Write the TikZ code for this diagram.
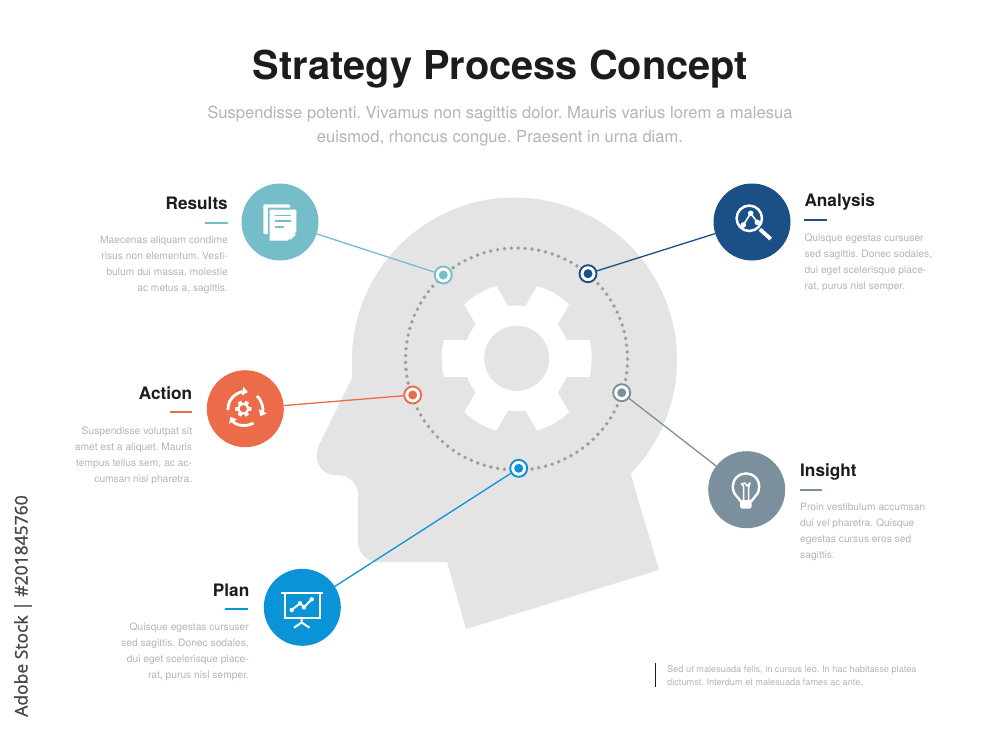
\documentclass[tikz,border=0pt]{standalone}
\usepackage{fontspec}
\setmainfont{TeX Gyre Heros}
\newfontfamily\stockfont[FakeBold=1.2]{Open Sans}
\usepackage{xcolor}
\usetikzlibrary{arrows.meta}
\definecolor{headgray}{HTML}{E4E4E4}
\definecolor{dotgray}{HTML}{9C9C9C}
\definecolor{bodygray}{HTML}{B4B4B4}
\definecolor{inkdark}{HTML}{1C1C1C}
\definecolor{resultsc}{HTML}{75BEC9}
\definecolor{actionc}{HTML}{EC6B48}
\definecolor{planc}{HTML}{0A93D7}
\definecolor{analysisc}{HTML}{1A5086}
\definecolor{insightc}{HTML}{7C8F9C}
% gear: three long bars and a ring, cut by a circle
\newcommand{\drawgear}[3]{%
    \begin{scope}[shift={(#1)}, scale=#2]
        \begin{scope}
            \clip (0, 0) circle (75);
            \fill [white] (-80, -18.5) rectangle (80, 18.5);
            \fill [white, rotate=60] (-80, -18.5) rectangle (80, 18.5);
            \fill [white, rotate=120] (-80, -18.5) rectangle (80, 18.5);
        \end{scope}
        \fill [white] (0, 0) circle (53);
        \fill [#3] (0, 0) circle (32.5);
    \end{scope}
}

\begin{document}
\frenchspacing
\begin{tikzpicture}[x=1pt, y=1pt, yscale=-1,
        bigdot/.style={circle, inner sep=0pt, minimum size=77pt},
        hub/.style={circle, draw, fill=white, line width=1.9pt, inner sep=0pt, minimum size=17pt},
        hubdot/.style={circle, inner sep=0pt, minimum size=9pt},
        heading/.style={font=\bfseries\fontsize{17.2}{17}\selectfont, text=inkdark, inner sep=0pt},
        blurb/.style={font=\fontsize{10.25}{16}\selectfont, text=bodygray, inner sep=0pt},
        blurbleft/.style={blurb, anchor=north west, align=left},
        blurbright/.style={blurb, anchor=north east, align=right},
        tick/.style={line width=1.7pt},
        link/.style={line width=1.3pt}]
    \useasboundingbox (0, 0) rectangle (1000, 733);

    % head
    \fill [headgray] (352, 360) arc [start angle=180, end angle=404.4, radius=162.5]
        -- (659, 570) -- (466, 629) -- (447, 562)
        [rounded corners=20pt] -- (358, 562) -- (358, 475) [sharp corners]
        -- (335, 475) .. controls (318, 475) and (312, 456) .. (321, 441) -- (352, 378) -- cycle;
    \drawgear{516.7, 358.3}{1}{headgray}
    \draw [dotgray, line width=3.8pt, line cap=round, dash pattern=on 0pt off 6.905pt]
        (516.5, 359) circle (111);

    % title
    \node (title) at (500.5, 69) [font=\bfseries\fontsize{39.8}{40}\selectfont, text=inkdark] {Strategy Process Concept};
    \node (subtitle) at (500, 126) [font=\fontsize{16.6}{24}\selectfont, text=bodygray, align=center]
        {Suspendisse potenti. Vivamus non sagittis dolor. Mauris varius lorem a malesua\\
         euismod, rhoncus congue. Praesent in urna diam.};

    % circles and their hubs
    \node (results) at (280, 222) [bigdot, fill=resultsc] {};
    \node (action) at (245.3, 408.7) [bigdot, fill=actionc] {};
    \node (plan) at (302.3, 607.3) [bigdot, fill=planc] {};
    \node (analysis) at (752, 222) [bigdot, fill=analysisc] {};
    \node (insight) at (746.7, 489.7) [bigdot, fill=insightc] {};

    \node (hubresults) at (443.3, 275) [hub, draw=resultsc] {};
    \node (hubaction) at (412.7, 395) [hub, draw=actionc] {};
    \node (hubplan) at (518.7, 468.3) [hub, draw=planc] {};
    \node (hubanalysis) at (588, 273.7) [hub, draw=analysisc] {};
    \node (hubinsight) at (621.7, 392.7) [hub, draw=insightc] {};

    \node (dotresults) at (hubresults) [hubdot, fill=resultsc] {};
    \node (dotaction) at (hubaction) [hubdot, fill=actionc] {};
    \node (dotplan) at (hubplan) [hubdot, fill=planc] {};
    \node (dotanalysis) at (hubanalysis) [hubdot, fill=analysisc] {};
    \node (dotinsight) at (hubinsight) [hubdot, fill=insightc] {};

    \draw [link, resultsc] (results) -- (hubresults);
    \draw [link, actionc] (action) -- (hubaction);
    \draw [link, planc] (plan) -- (hubplan);
    \draw [link, analysisc] (analysis) -- (hubanalysis);
    \draw [link, insightc] (insight) -- (hubinsight);

    % left column
    \node (headresults) at (228, 209.3) [heading, anchor=base east] {Results};
    \draw [tick, resultsc] (205, 222.7) -- (227.5, 222.7);
    \node (bodyresults) at (228, 236.3) [blurbright]
        {Maecenas aliquam condime\\risus non elementum. Vesti-\\bulum dui massa, molestie\\ac metus a, sagittis.};

    \node (headaction) at (192.3, 399.3) [heading, anchor=base east] {Action};
    \draw [tick, actionc] (170, 411.7) -- (192.3, 411.7);
    \node (bodyaction) at (192.3, 426.3) [blurbright]
        {Suspendisse volutpat sit\\amet est a aliquet. Mauris\\tempus tellus sem, ac ac-\\cumsan nisi pharetra.};

    \node (headplan) at (249.5, 596) [heading, anchor=base east] {Plan};
    \draw [tick, planc] (225, 609) -- (247.5, 609);
    \node (bodyplan) at (249, 622.6) [blurbright]
        {Quisque egestas cursuser\\sed sagittis. Donec sodales,\\dui eget scelerisque place-\\rat, purus nisl semper.};

    % right column
    \node (headanalysis) at (804.3, 206.7) [heading, anchor=base west] {Analysis};
    \draw [tick, analysisc] (804.3, 220) -- (827, 220);
    \node (bodyanalysis) at (804.3, 233.3) [blurbleft]
        {Quisque egestas cursuser\\sed sagittis. Donec sodales,\\dui eget scelerisque place-\\rat, purus nisl semper.};

    \node (headinsight) at (800, 476.7) [heading, anchor=base west] {Insight};
    \draw [tick, insightc] (800, 490) -- (822, 490);
    \node (bodyinsight) at (800, 503.3) [blurbleft]
        {Proin vestibulum accumsan\\dui vel pharetra. Quisque\\egestas cursus eros sed\\sagittis.};

    % footnote and side line
    \draw [inkdark, line width=1.8pt] (655.5, 663) -- (655.5, 687);
    \node (footnote) at (667, 665.5) [anchor=north west, inner sep=0pt, align=left, text=bodygray,
        font=\fontsize{9.2}{13.4}\selectfont]
        {Sed ut malesuada felis, in cursus leo. In hac habitasse platea\\dictumst. Interdum et malesuada fames ac ante.};
    \node (stockline) at (23, 606) [rotate=90, text=black!72, font=\stockfont\fontsize{17.5}{18}\selectfont]
        {Adobe Stock | \#201845760};

    % icon: papers
    \fill [white, rounded corners=1pt] (263.3, 204.3) rectangle (290, 234);
    \draw [resultsc, fill=white, line width=1.8pt] (268.7, 208.6) -- (297.3, 208.6) -- (297.3, 232) -- (288.5, 241.5) -- (268.7, 241.5) -- cycle;
    \draw [resultsc, line width=1.6pt] (275, 215.3) -- (290.7, 215.3) (275, 220.7) -- (290.7, 220.7) (275, 226.7) -- (283.5, 226.7);
    \fill [white] (290.3, 240.3) -- (296.7, 233.6) -- (290.3, 235) -- cycle;

    % icon: turning arrows and gear
    \draw [white, line width=2.8pt, -{Triangle[length=5.5pt, width=8.5pt]}] (228, 410) arc [start angle=176, end angle=280, radius=17];
    \draw [white, line width=2.8pt, -{Triangle[length=5.5pt, width=8.5pt]}] (257, 396) arc [start angle=314, end angle=388, radius=17];
    \draw [white, line width=2.8pt, -{Triangle[length=5.5pt, width=8.5pt]}] (253.5, 423) arc [start angle=60, end angle=150, radius=17];
    \drawgear{243.3, 408.7}{0.11}{actionc}

    % icon: chart on a screen
    \draw [white, line width=2.2pt] (281, 593) -- (322.7, 593);
    \draw [white, line width=2pt] (284.5, 593) -- (284.5, 617.5) -- (319.5, 617.5) -- (319.5, 593);
    \draw [white, line width=2pt] (291.7, 610) -- (300, 603.3) -- (304, 607.3) -- (311.7, 599.3);
    \fill [white] (291.7, 610) circle (2.2) (300, 603.3) circle (2.2) (304, 607.3) circle (2.2) (311.7, 599.3) circle (2.2);
    \draw [white, line width=2pt] (301.7, 617.5) -- (301.7, 623) (294, 627.7) -- (301.7, 622.5) -- (309.5, 627.7);

    % icon: lens
    \draw [white, line width=2.5pt] (749.3, 218.3) circle (12.7);
    \draw [white, line width=3.8pt] (760, 229.3) -- (770.7, 239);
    \draw [white, line width=1.6pt] (743.3, 225) -- (750.7, 213.3) -- (757.3, 222.3);
    \fill [white] (750.7, 213.3) circle (2.8) (743.3, 225) circle (2.8) (757.3, 222.3) circle (2.8);

    % icon: bulb
    \draw [white, line width=2.4pt, line join=round] (736.6, 496.1) arc [start angle=135, end angle=405, radius=13.3]
        -- (751.5, 501) -- (740.5, 501) -- cycle;
    \fill [white, rounded corners=1.5pt] (740, 500) rectangle (751.7, 508.5);
    \draw [white, line width=1.5pt, line join=round] (743.5, 500) -- (743.5, 486) -- (741.5, 484) -- (745, 483) -- (747, 486) -- (750, 483) -- (748.5, 488) -- (748.5, 500);
\end{tikzpicture}
\end{document}
